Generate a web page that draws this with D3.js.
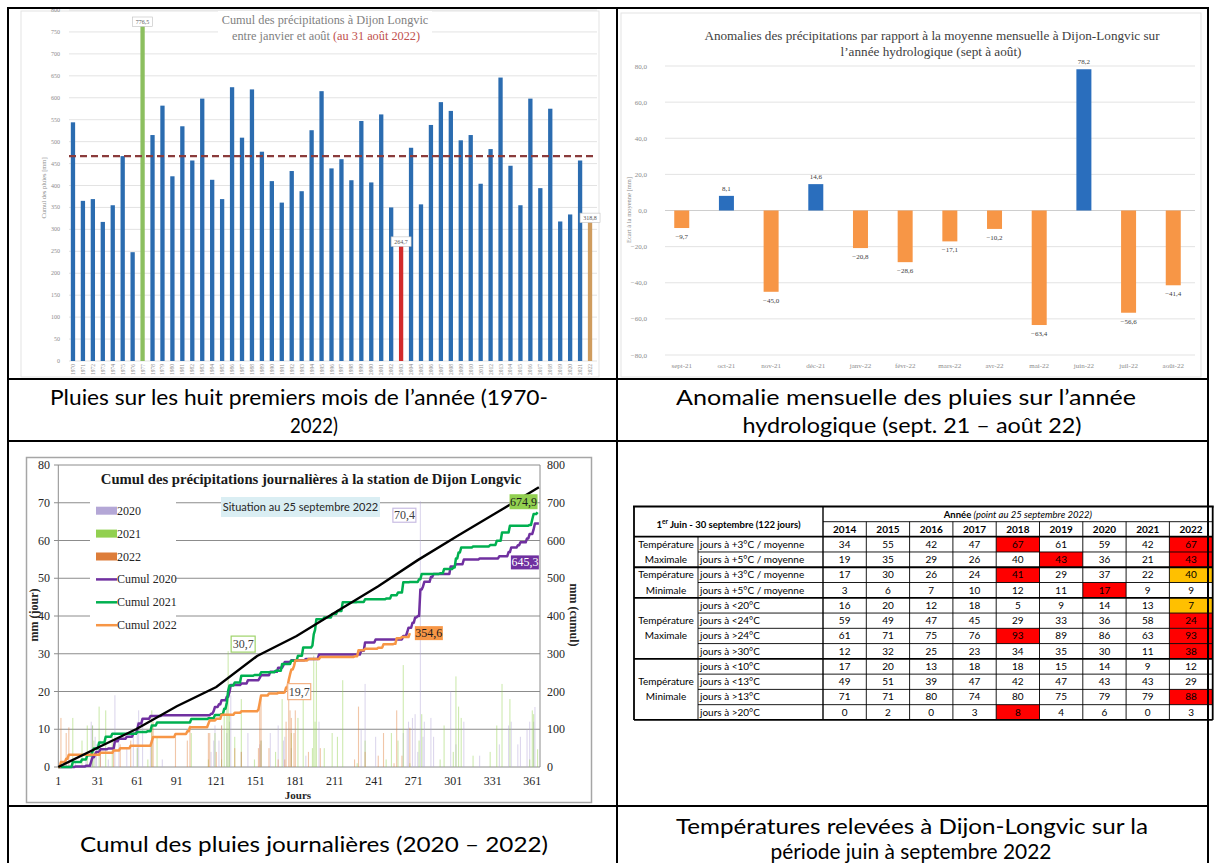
<!DOCTYPE html>
<html><head><meta charset="utf-8">
<script src="https://cdn.jsdelivr.net/npm/d3@7"></script>
<style>body{margin:0;background:#fff}svg{display:block}</style>
</head><body>
<svg id="c" width="1215" height="863"></svg>
<script>
// ---------------- DATA ----------------
const years = d3.range(1970, 2023);
const rainJanAug = [544,365,369,317,355,467,248,776.5,515,582,421,535,457,598,413,369,624,509,619,477,410,361,433,387,526,615,439,460,412,547,407,562,350,264.7,486,357,538,590,570,503,515,404,483,646,445,355,598,394,575,318,334,457,318.8];
const meanJanAug = 467;
const tlTicks = [0,50,100,150,200,250,300,350,400,450,500,550,600,650,700,750,800];

const months = ["sept-21","oct-21","nov-21","déc-21","janv-22","févr-22","mars-22","avr-22","mai-22","juin-22","juil-22","août-22"];
const anomalies = [-9.7,8.1,-45.0,14.6,-20.8,-28.6,-17.1,-10.2,-63.4,78.2,-56.6,-41.4];
const trTicks = [-80,-60,-40,-20,0,20,40,60,80];

// daily rain events [day, mm]
const rain2020 = [[14,1],[22,2],[26,12],[27,11],[29,8],[30,6],[33,7],[39,2],[44,19],[47,7],[53,5],[58,8],[61,12],[62,15],[65,13],[71,7],[80,2],[117,4],[119,7],[120,11],[123,7],[125,11],[129,9],[131,12],[132,19],[140,4],[145,9],[154,6],[155,7],[162,9],[168,11],[172,7],[173,8],[178,5],[189,3],[199,12],[231,10],[234,22],[242,8],[263,9],[266,10],[267,12],[270,13],[272,14],[274,4],[276,70.4],[278,8],[279,12],[284,13],[286,8],[299,20],[303,6],[309,12],[321,3],[336,6],[343,11],[345,12],[350,6],[352,8],[357,10],[359,12],[362,12],[363,15.9]];
const rain2021 = [[12,13],[19,7],[23,11],[27,11],[28,7],[32,16],[37,15],[42,8],[61,5],[69,2],[72,15],[76,8],[102,9],[115,2],[120,9],[125,2],[127,14],[129,17],[130,30.7],[131,14],[135,8],[140,18],[150,2],[155,7],[166,4],[171,18],[178,9],[183,13],[187,22],[194,5],[195,29.5],[196,12],[197,28],[203,5],[209,9],[213,8],[217,23],[228,1],[234,7],[250,2],[254,9],[259,7],[263,27],[268,1],[275,7],[277,14],[291,2],[294,11],[301,4],[303,24],[305,16],[307,13],[316,3],[329,4],[334,11],[338,22],[344,18],[359,2],[361,15],[362,14],[365,4.7]];
const rain2022 = [[3,13],[7,9],[9,10.5],[33,5],[43,6],[48,6],[56,7],[72,11],[73,12],[90,8],[99,7],[101,11],[115,9],[116,9],[121,4],[125,11],[135,5],[140,4],[153,5],[154,18],[155,19],[161,5],[168,2],[173,2],[174,12],[176,19.7],[177,15],[178,13],[180,9],[181,15],[191,4],[200,5],[226,2],[229,16],[234,4],[244,3],[248,9],[256,1],[258,15],[262,3],[268,10.4]];
const normalCumul = [[1,0],[32,53],[60,100],[91,161],[121,212],[152,294],[182,347],[213,413],[244,479],[274,548],[305,614],[335,676],[366,741]];
const dayTicks = [1,31,61,91,121,151,181,211,241,271,301,331,361];
const leftTicks = [0,10,20,30,40,50,60,70,80];
const rightTicks = [0,100,200,300,400,500,600,700,800];

const tableYears = ["2014","2015","2016","2017","2018","2019","2020","2021","2022"];
const rowLabels = ["jours à +3°C / moyenne","jours à +5°C / moyenne","jours à +3°C / moyenne","jours à +5°C / moyenne","jours à <20°C","jours à <24°C","jours à >24°C","jours à >30°C","jours à <10°C","jours à <13°C","jours à >13°C","jours à >20°C"];
const tableValues = [
 [34,55,42,47,67,61,59,42,67],
 [19,35,29,26,40,43,36,21,43],
 [17,30,26,24,41,29,37,22,40],
 [3,6,7,10,12,11,17,9,9],
 [16,20,12,18,5,9,14,13,7],
 [59,49,47,45,29,33,36,58,24],
 [61,71,75,76,93,89,86,63,93],
 [12,32,25,23,34,35,30,11,38],
 [17,20,13,18,18,15,14,9,12],
 [49,51,39,47,42,47,43,43,29],
 [71,71,80,74,80,75,79,79,88],
 [0,2,0,3,8,4,6,0,3]];
const redCells = [[0,4],[0,8],[1,5],[1,8],[2,4],[3,6],[5,8],[6,4],[6,8],[7,8],[10,8],[11,4]];
const amberCells = [[2,8],[4,8]];
const groups = [{l:["Température","Maximale"],s:0,n:2},{l:["Température","Minimale"],s:2,n:2},{l:["Température","Maximale"],s:4,n:4},{l:["Température","Minimale"],s:8,n:4}];

// ---------------- DRAW ----------------
const SERIF = "'Liberation Serif','DejaVu Serif',serif";
const SANS = "Lato,'Open Sans',sans-serif";
const svg = d3.select("#c");
const fr = v => d3.format(".1f")(v).replace(".", ",");

// ===== Top-left =====
const gA = svg.append("g");
gA.append("rect").attr("x",21).attr("y",11).attr("width",578).attr("height",366).attr("fill","#fff").attr("stroke","#e3e3e3");
const yA = d3.scaleLinear().domain([0,800]).range([361,10]);
const xA = d3.scaleBand().domain(years).range([68,595]);
gA.selectAll(".gl").data(tlTicks).join("line").attr("x1",69).attr("x2",597)
  .attr("y1",d=>yA(d)).attr("y2",d=>yA(d)).attr("stroke","#dcdcdc").attr("stroke-width",0.8);
gA.selectAll(".tl").data(tlTicks).join("text").attr("x",60).attr("y",d=>yA(d)+2)
  .attr("text-anchor","end").attr("font-family",SERIF).attr("font-size",6).attr("fill","#8c8c8c").text(d=>d);
gA.append("text").attr("transform","translate(46,188) rotate(-90)").attr("text-anchor","middle")
  .attr("font-family",SERIF).attr("font-size",6.5).attr("fill","#8c8c8c").text("Cumul des pluies [mm]");
gA.append("rect").attr("x",218).attr("y",11).attr("width",214).attr("height",35).attr("fill","#fff");
gA.append("text").attr("x",325).attr("y",24).attr("text-anchor","middle").attr("font-family",SERIF)
  .attr("font-size",12.3).attr("fill","#7f7f7f").text("Cumul des précipitations à Dijon Longvic");
const t2 = gA.append("text").attr("x",326).attr("y",40).attr("text-anchor","middle").attr("font-family",SERIF).attr("font-size",12.3);
t2.append("tspan").attr("fill","#7f7f7f").text("entre janvier et août ");
t2.append("tspan").attr("fill","#c0504d").text("(au 31 août 2022)");
const colA = y => y===1977 ? "#8cbf5f" : y===2003 ? "#d22b2b" : y===2022 ? "#cf9c5e" : "#2b6cb0";
const bwA = 4.3;
gA.selectAll(".bar").data(years).join("rect")
  .attr("x",(d)=>xA(d)+xA.bandwidth()/2-bwA/2).attr("width",bwA)
  .attr("y",(d,i)=>yA(rainJanAug[i])).attr("height",(d,i)=>yA(0)-yA(rainJanAug[i]))
  .attr("fill",colA);
gA.append("line").attr("x1",69).attr("x2",597).attr("y1",yA(meanJanAug)).attr("y2",yA(meanJanAug))
  .attr("stroke","#8a3b3b").attr("stroke-width",2.2).attr("stroke-dasharray","7,4");
[1977,2003,2022].forEach(y=>{
  const v = rainJanAug[years.indexOf(y)];
  const cx = xA(y)+xA.bandwidth()/2;
  const by = Math.max(yA(v)-8, 17);
  gA.append("rect").attr("x",cx-10).attr("y",by).attr("width",20).attr("height",9.5).attr("fill","#fff").attr("stroke","#bfbfbf").attr("stroke-width",0.6);
  gA.append("text").attr("x",cx).attr("y",by+7).attr("text-anchor","middle").attr("font-family",SERIF).attr("font-size",6).attr("fill","#595959").text(fr(v));
});
gA.selectAll(".xl").data(years).join("text")
  .attr("transform",d=>`translate(${xA(d)+xA.bandwidth()/2+2},364) rotate(-90)`)
  .attr("text-anchor","end").attr("font-family",SERIF).attr("font-size",5.5).attr("fill","#8c8c8c").text(d=>d);

// ===== Top-right =====
const gB = svg.append("g");
gB.append("rect").attr("x",621).attr("y",13).attr("width",580).attr("height",364).attr("fill","#fff").attr("stroke","#e3e3e3");
const yB = d3.scaleLinear().domain([-80,80]).range([355,66]);
const xB = d3.scaleBand().domain(months).range([659.4,1195.6]);
gB.selectAll(".gl").data(trTicks).join("line").attr("x1",665).attr("x2",1195)
  .attr("y1",d=>yB(d)).attr("y2",d=>yB(d)).attr("stroke",d=>d===0?"#c8c8c8":"#e0e0e0").attr("stroke-width",0.9);
gB.selectAll(".tl").data(trTicks).join("text").attr("x",647).attr("y",d=>yB(d)+2.5)
  .attr("text-anchor","end").attr("font-family",SERIF).attr("font-size",7).attr("fill","#8c8c8c").text(d=>fr(d));
gB.append("text").attr("transform","translate(631,210) rotate(-90)").attr("text-anchor","middle")
  .attr("font-family",SERIF).attr("font-size",6.5).attr("fill","#8c8c8c").text("Ecart à la moyenne [mm]");
gB.append("text").attr("x",932).attr("y",40).attr("text-anchor","middle").attr("font-family",SERIF)
  .attr("font-size",13.2).attr("fill","#404040").text("Anomalies des précipitations par rapport à la moyenne mensuelle à Dijon-Longvic sur");
gB.append("text").attr("x",931).attr("y",56).attr("text-anchor","middle").attr("font-family",SERIF)
  .attr("font-size",13.2).attr("fill","#404040").text("l’année hydrologique (sept à août)");
const bwB = 15;
gB.selectAll(".bar").data(months).join("rect")
  .attr("x",d=>xB(d)+xB.bandwidth()/2-bwB/2).attr("width",bwB)
  .attr("y",(d,i)=>yB(Math.max(0,anomalies[i]))).attr("height",(d,i)=>Math.abs(yB(anomalies[i])-yB(0)))
  .attr("fill",(d,i)=>anomalies[i]>=0?"#2a6ebd":"#f79646");
gB.selectAll(".vl").data(months).join("text")
  .attr("x",d=>xB(d)+xB.bandwidth()/2)
  .attr("y",(d,i)=>anomalies[i]>=0 ? yB(anomalies[i])-5 : yB(anomalies[i])+11)
  .attr("text-anchor","middle").attr("font-family",SERIF).attr("font-size",7).attr("fill","#404040")
  .text((d,i)=>fr(anomalies[i]));
gB.selectAll(".xl").data(months).join("text").attr("x",d=>xB(d)+xB.bandwidth()/2).attr("y",368)
  .attr("text-anchor","middle").attr("font-family",SERIF).attr("font-size",7).attr("fill","#8c8c8c").text(d=>d);

// ===== Bottom-left =====
const gC = svg.append("g");
gC.append("rect").attr("x",26.5).attr("y",457.5).attr("width",565).attr("height",345).attr("fill","#fff").attr("stroke","#a6a6a6").attr("stroke-width",1.5);
const xC = d3.scaleLinear().domain([1,361]).range([58.3,532.3]);
const yL = d3.scaleLinear().domain([0,80]).range([767,465]);
const yR = d3.scaleLinear().domain([0,800]).range([767,465]);
gC.selectAll(".gl").data(leftTicks).join("line").attr("x1",54).attr("x2",540)
  .attr("y1",d=>yL(d)).attr("y2",d=>yL(d)).attr("stroke","#8c8c8c").attr("stroke-width",1);
gC.append("line").attr("x1",58.3).attr("x2",58.3).attr("y1",465).attr("y2",767).attr("stroke","#8c8c8c");
gC.append("line").attr("x1",540).attr("x2",540).attr("y1",465).attr("y2",767).attr("stroke","#8c8c8c");
gC.selectAll(".ll").data(leftTicks).join("text").attr("x",50).attr("y",d=>yL(d)+4)
  .attr("text-anchor","end").attr("font-family",SERIF).attr("font-size",12).attr("fill","#262626").text(d=>d);
gC.selectAll(".rl").data(rightTicks).join("text").attr("x",547).attr("y",d=>yR(d)+4)
  .attr("text-anchor","start").attr("font-family",SERIF).attr("font-size",12).attr("fill","#262626").text(d=>d);
gC.selectAll(".xl").data(dayTicks).join("text").attr("x",d=>xC(d)).attr("y",785)
  .attr("text-anchor","middle").attr("font-family",SERIF).attr("font-size",12).attr("fill","#262626").text(d=>d);
gC.append("text").attr("x",298).attr("y",799).attr("text-anchor","middle").attr("font-family",SERIF).attr("font-weight","bold").attr("font-size",11).attr("fill","#262626").text("Jours");
gC.append("text").attr("transform","translate(38,615) rotate(-90)").attr("text-anchor","middle").attr("font-family",SERIF).attr("font-weight","bold").attr("font-size",12).attr("fill","#262626").text("mm (jour)");
gC.append("text").attr("transform","translate(570,615) rotate(90)").attr("text-anchor","middle").attr("font-family",SERIF).attr("font-weight","bold").attr("font-size",12).attr("fill","#262626").text("mm (cumul)");
gC.append("text").attr("x",311).attr("y",484).attr("text-anchor","middle").attr("font-family",SERIF).attr("font-weight","bold").attr("font-size",14.7).attr("fill","#1a1a1a").text("Cumul des précipitations journalières à la station de Dijon Longvic");

const series = [
  {y:"2020", ev:rain2020, last:366, bar:"#b4a7d6", line:"#7030a0"},
  {y:"2021", ev:rain2021, last:365, bar:"#92d050", line:"#00b050"},
  {y:"2022", ev:rain2022, last:268, bar:"#e0803e", line:"#f79646"}];
series.forEach(s=>{
  gC.selectAll(".b"+s.y).data(s.ev).join("rect")
    .attr("x",d=>xC(d[0])-0.55).attr("width",1.1).attr("y",d=>yL(d[1])).attr("height",d=>yL(0)-yL(d[1]))
    .attr("fill",s.bar).attr("opacity",0.45);
});
function cumul(ev,last){const m=new Map();ev.forEach(([d,v])=>m.set(d,(m.get(d)||0)+v));let c=0;const out=[];for(let d=1;d<=last;d++){c+=m.get(d)||0;out.push([d,c]);}return out;}
const line = d3.line().x(d=>xC(d[0])).y(d=>yR(d[1]));
series.forEach(s=>{ s.cum = cumul(s.ev,s.last);
  gC.append("path").attr("d",line(s.cum)).attr("fill","none").attr("stroke",s.line).attr("stroke-width",2.5).attr("stroke-linejoin","round");
});
gC.append("path").attr("d",line(normalCumul)).attr("fill","none").attr("stroke","#000").attr("stroke-width",2.4);

// legend
gC.append("rect").attr("x",90).attr("y",497).attr("width",86).attr("height",143).attr("fill","#fff");
const leg = [{t:"2020",c:"#b4a7d6",k:"bar"},{t:"2021",c:"#92d050",k:"bar"},{t:"2022",c:"#dd7d3a",k:"bar"},
  {t:"Cumul 2020",c:"#7030a0",k:"line"},{t:"Cumul 2021",c:"#00b050",k:"line"},{t:"Cumul 2022",c:"#f79646",k:"line"}];
leg.forEach((l,i)=>{const cy=510.7+i*22.9;
  if(l.k==="bar") gC.append("rect").attr("x",96).attr("y",cy-4).attr("width",21).attr("height",8).attr("fill",l.c);
  else gC.append("line").attr("x1",96).attr("x2",117).attr("y1",cy).attr("y2",cy).attr("stroke",l.c).attr("stroke-width",2.5);
  gC.append("text").attr("x",117).attr("y",cy+4).attr("font-family",SERIF).attr("font-size",12).attr("fill","#262626").text(l.t);
});
gC.append("rect").attr("x",221).attr("y",497).attr("width",159).attr("height",20).attr("fill","#daeef3");
gC.append("text").attr("x",300.5).attr("y",511).attr("text-anchor","middle").attr("font-family",SANS).attr("font-size",11).attr("fill","#262626").text("Situation au 25 septembre 2022");

function tag(x,y,w,h,txt,fill,stroke,tc){
  gC.append("rect").attr("x",x).attr("y",y).attr("width",w).attr("height",h).attr("fill",fill).attr("stroke",stroke||"none").attr("stroke-width",1.2);
  gC.append("text").attr("x",x+w/2).attr("y",y+h/2+4).attr("text-anchor","middle").attr("font-family",SERIF).attr("font-size",12).attr("fill",tc).text(txt);
}
tag(xC(276)-27.5, yL(70.4)+7, 23, 14, fr(70.4), "#fff", "#c9bde3", "#404040");
tag(xC(130)+3, yL(30.7)-15, 24, 16, fr(30.7), "#fff", "#9fd36a", "#404040");
tag(xC(176)-1, yL(19.7)-9, 23, 16, fr(19.7), "#fff", "#f4b183", "#404040");
const c21 = series[1].cum[series[1].cum.length-1], c20 = series[0].cum[series[0].cum.length-1], c22 = series[2].cum[series[2].cum.length-1];
tag(xC(c21[0])-28, yR(c21[1])-18, 28, 15, fr(c21[1]), "#92d050", null, "#1a1a1a");
tag(xC(c20[0])-28, yR(c20[1])+32, 28, 14, fr(c20[1]), "#7030a0", null, "#fff");
tag(xC(c22[0])+5, yR(c22[1])-7, 28, 14, fr(c22[1]), "#f79646", null, "#1a1a1a");

// ===== Bottom-right table =====
const gD = svg.append("g");
const tb = {x0:634, c1:698, c2:823, cw:43.3, y0:506.5, h1:521.7, h2:536.7, rh:15.27};
const colX = i => tb.c2 + i*tb.cw, rowY = r => tb.h2 + r*tb.rh;
const xEnd = colX(9);
redCells.forEach(([r,c])=>gD.append("rect").attr("x",colX(c)).attr("y",rowY(r)).attr("width",tb.cw).attr("height",tb.rh).attr("fill","#ff0000"));
amberCells.forEach(([r,c])=>gD.append("rect").attr("x",colX(c)).attr("y",rowY(r)).attr("width",tb.cw).attr("height",tb.rh).attr("fill","#ffc000"));
const ln = (x1,y1,x2,y2,w)=>gD.append("line").attr("x1",x1).attr("y1",y1).attr("x2",x2).attr("y2",y2).attr("stroke","#000").attr("stroke-width",w);
const groupStarts = groups.map(g=>g.s);
for(let r=0;r<=12;r++){ const boundary = r===0||r===12||groupStarts.includes(r); ln(boundary?tb.x0:tb.c1, rowY(r), xEnd, rowY(r), boundary?1.8:0.9); }
ln(tb.x0-1,tb.y0,xEnd+1,tb.y0,1.8);
ln(tb.c2,tb.h1,xEnd,tb.h1,0.9);
ln(tb.x0,tb.y0,tb.x0,rowY(12),1.8);
ln(tb.c1,tb.h2,tb.c1,rowY(12),0.9);
ln(tb.c2,tb.y0,tb.c2,rowY(12),1.4);
for(let i=1;i<9;i++) ln(colX(i),tb.h1,colX(i),rowY(12),0.9);
ln(xEnd,tb.y0,xEnd,rowY(12),1.8);
const hd = gD.append("text").attr("x",(tb.x0+tb.c2)/2).attr("y",527.5).attr("text-anchor","middle").attr("font-family",SANS).attr("font-weight","bold").attr("font-size",9.5).attr("fill","#000");
hd.append("tspan").text("1");
hd.append("tspan").attr("font-size",6.5).attr("dy",-3.5).text("er");
hd.append("tspan").attr("dy",3.5).text(" Juin - 30 septembre (122 jours)");
const an = gD.append("text").attr("x",(tb.c2+xEnd)/2).attr("y",518).attr("text-anchor","middle").attr("font-family",SANS).attr("font-size",9.5).attr("fill","#000");
an.append("tspan").attr("font-weight","bold").text("Année ");
an.append("tspan").attr("font-style","italic").text("(point au 25 septembre 2022)");
gD.selectAll(".yr").data(tableYears).join("text").attr("x",(d,i)=>colX(i)+tb.cw/2).attr("y",533)
  .attr("text-anchor","middle").attr("font-family",SANS).attr("font-weight","bold").attr("font-size",10).attr("fill","#000").text(d=>d);
gD.selectAll(".rl").data(rowLabels).join("text").attr("x",tb.c1+2).attr("y",(d,i)=>rowY(i)+11)
  .attr("font-family",SANS).attr("font-size",10).attr("fill","#000").text(d=>d);
tableValues.forEach((row,r)=>row.forEach((v,c)=>{
  gD.append("text").attr("x",colX(c)+tb.cw/2).attr("y",rowY(r)+11).attr("text-anchor","middle")
    .attr("font-family",SANS).attr("font-size",10).attr("fill","#000").text(v);
}));
groups.forEach(g=>{ const off = g.n===2?0:1;
  g.l.forEach((t,k)=>gD.append("text").attr("x",(tb.x0+tb.c1)/2).attr("y",rowY(g.s+off+k)+11).attr("text-anchor","middle")
    .attr("font-family",SANS).attr("font-size",10).attr("fill","#000").text(t));
});

// ===== Page table & captions =====
const gE = svg.append("g");
const P = {l:8, m:617, r:1208, t:8, a:379, b:441, c:806};
const pl = (x1,y1,x2,y2)=>gE.append("line").attr("x1",x1).attr("y1",y1).attr("x2",x2).attr("y2",y2).attr("stroke","#000").attr("stroke-width",2);
[P.t,P.a,P.b,P.c].forEach(y=>pl(P.l-1,y,P.r+1,y));
[P.l,P.m,P.r].forEach(x=>pl(x,P.t,x,863));
const caps = [
  {t:"Pluies sur les huit premiers mois de l’année (1970-", x:299, y:405, w:498},
  {t:"2022)", x:314, y:433, w:48},
  {t:"Anomalie mensuelle des pluies sur l’année", x:906, y:405, w:460},
  {t:"hydrologique (sept. 21 – août 22)", x:912, y:433, w:339},
  {t:"Cumul des pluies journalières (2020 – 2022)", x:314, y:852, w:468},
  {t:"Températures relevées à Dijon-Longvic sur la", x:912, y:834, w:472},
  {t:"période juin à septembre 2022", x:911, y:859, w:281}];
gE.selectAll(".cap").data(caps).join("text").attr("x",d=>d.x).attr("y",d=>d.y).attr("text-anchor","middle")
  .attr("font-family",SANS).attr("font-size",21).attr("fill","#000")
  .attr("textLength",d=>d.w).attr("lengthAdjust","spacingAndGlyphs").text(d=>d.t);
</script>
</body></html>
